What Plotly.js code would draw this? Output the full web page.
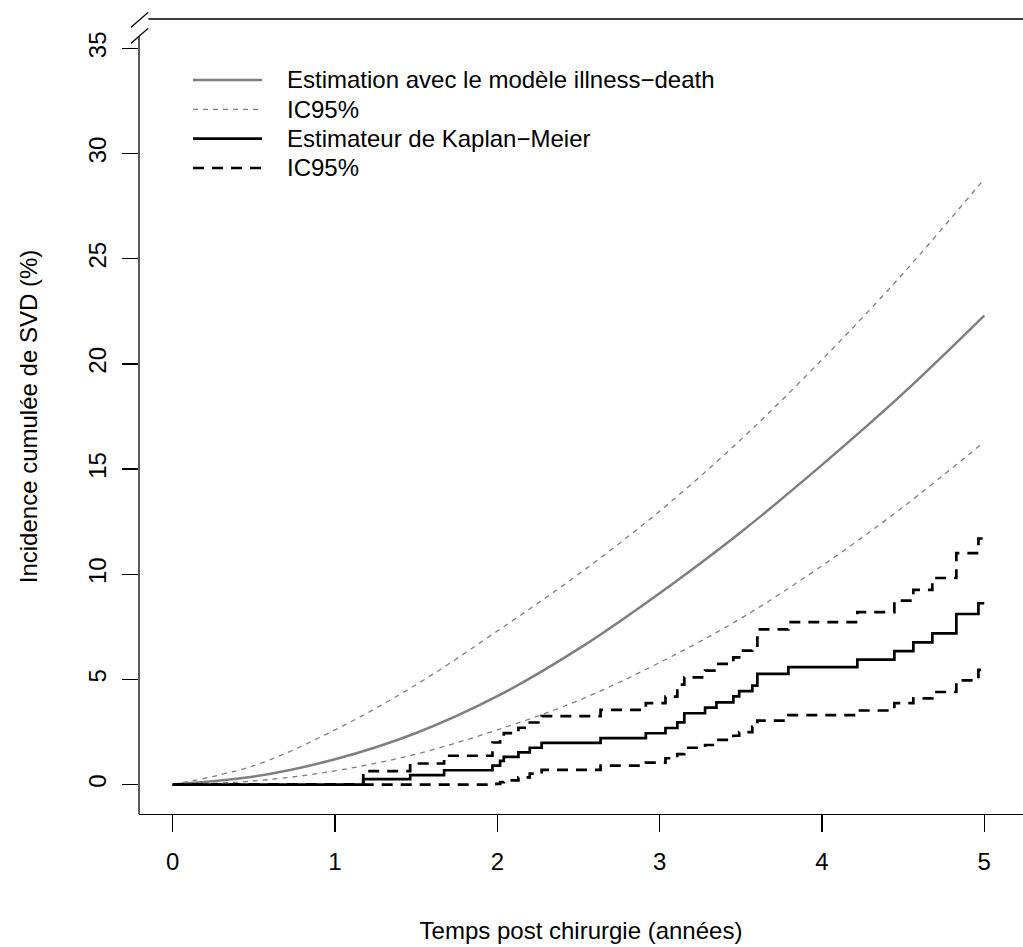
<!DOCTYPE html>
<html>
<head>
<meta charset="utf-8">
<script src="https://cdn.plot.ly/plotly-3.0.1.min.js"></script>
<style>
  html, body { margin: 0; padding: 0; background: #ffffff; }
  #chart { width: 1023px; height: 947px; }
</style>
</head>
<body>
<div id="chart"></div>
<script>
// ---- Illness-death model estimate (smooth curves), read at grid times ----
const tGrid      = [0, 0.5, 1, 1.5, 2, 2.5, 3, 3.5, 4, 4.5, 5];
const idEstimate = [0, 0.38, 1.2, 2.45, 4.2, 6.45, 9.1, 12.0, 15.2, 18.6, 22.3];
const idLower    = [0, 0.17, 0.65, 1.45, 2.6, 4.0, 5.8, 7.9, 10.4, 13.2, 16.3];
const idUpper    = [0, 0.9, 2.6, 4.75, 7.3, 10.0, 13.0, 16.4, 20.2, 24.3, 28.8];

// ---- Kaplan-Meier estimator (step function) ----
const kmTime  = [0, 1.174, 1.463, 1.672, 1.970, 2.017, 2.040, 2.130, 2.200, 2.273, 2.636, 2.915, 3.036, 3.109, 3.152, 3.280, 3.350, 3.454, 3.490, 3.571, 3.602, 3.793, 4.218, 4.446, 4.563, 4.680, 4.828, 4.964, 5.0];
const kmValue = [0, 0.26, 0.45, 0.68, 0.90, 1.13, 1.32, 1.53, 1.75, 1.98, 2.21, 2.44, 2.69, 2.96, 3.39, 3.66, 3.91, 4.19, 4.44, 4.70, 5.26, 5.58, 5.94, 6.34, 6.76, 7.19, 8.11, 8.62, 8.62];
const kmUpper = [0, 0.64, 1.00, 1.37, 2.00, 2.30, 2.45, 2.70, 2.95, 3.25, 3.55, 3.87, 4.18, 4.75, 5.10, 5.42, 5.74, 6.05, 6.37, 6.60, 7.38, 7.72, 8.20, 8.75, 9.26, 9.82, 11.0, 11.7, 11.7];
const kmLower = [0, 0, 0, 0, 0.03, 0.12, 0.20, 0.34, 0.52, 0.70, 0.90, 1.04, 1.25, 1.45, 1.75, 1.88, 2.12, 2.32, 2.49, 2.75, 3.04, 3.30, 3.52, 3.87, 4.10, 4.40, 4.95, 5.45, 5.45];

// ---- Text ----
const legendLabels = ["Estimation avec le modèle illness\u2212death", "IC95%", "Estimateur de Kaplan\u2212Meier", "IC95%"];
const xTickVals = [0, 1, 2, 3, 4, 5];
const yTickVals = [0, 5, 10, 15, 20, 25, 30, 35];
const xTitle = "Temps post chirurgie (années)";
const yTitle = "Incidence cumulée de SVD (%)";

const GRAY = "#7f7f7f";
const FONT = "'Liberation Sans', Arial, Helvetica, sans-serif";
const FS = 24;

const styles = [
  {color: GRAY, width: 2.5, dash: "solid"},
  {color: GRAY, width: 1.3, dash: "5px,5px"},
  {color: "#000000", width: 2.7, dash: "solid"},
  {color: "#000000", width: 2.7, dash: "11px,8px"}
];

const traces = [
  {x: tGrid, y: idUpper, mode: "lines", line: {color: styles[1].color, width: styles[1].width, dash: styles[1].dash, shape: "spline"}, name: legendLabels[1]},
  {x: tGrid, y: idLower, mode: "lines", line: {color: styles[1].color, width: styles[1].width, dash: styles[1].dash, shape: "spline"}, name: legendLabels[1]},
  {x: tGrid, y: idEstimate, mode: "lines", line: {color: styles[0].color, width: styles[0].width, shape: "spline"}, name: legendLabels[0]},
  {x: kmTime, y: kmUpper, mode: "lines", line: {color: styles[3].color, width: styles[3].width, dash: styles[3].dash, shape: "hv"}, name: legendLabels[3]},
  {x: kmTime, y: kmLower, mode: "lines", line: {color: styles[3].color, width: styles[3].width, dash: styles[3].dash, shape: "hv"}, name: legendLabels[3]},
  {x: kmTime, y: kmValue, mode: "lines", line: {color: styles[2].color, width: styles[2].width, shape: "hv"}, name: legendLabels[2]}
];

// geometry (pixels) of plot area
const W = 1023, H = 947;
const L = 139, R = 0, T = 19, B = 133;
const pw = W - L - R, ph = H - T - B;
const px = (p) => (p - L) / pw;         // pixel x -> paper
const py = (p) => (H - B - p) / ph;     // pixel y -> paper

const shapes = [];
const annotations = [];

// y axis line (stops below the break)
shapes.push({type: "line", xref: "paper", yref: "y", x0: 0, x1: 0, y0: -1.4, y1: 35.57, line: {color: "#000", width: 1.3}});
// top line of the box (after the break)
shapes.push({type: "line", xref: "paper", yref: "paper", x0: px(148.3), x1: 1, y0: 1, y1: 1, line: {color: "#000", width: 1.3}});
// break marks
shapes.push({type: "line", xref: "paper", yref: "paper", x0: px(131), x1: px(148.3), y0: py(27.3), y1: py(12.3), line: {color: "#000", width: 1.2}});
shapes.push({type: "line", xref: "paper", yref: "paper", x0: px(131), x1: px(148.3), y0: py(43.3), y1: py(28.3), line: {color: "#000", width: 1.2}});

// legend (drawn manually as R's legend without box)
const legRows = [80, 109.3, 138.7, 168];
legendLabels.forEach((lab, i) => {
  const s = styles[i];
  shapes.push({type: "line", xref: "paper", yref: "paper", x0: px(193), x1: px(262), y0: py(legRows[i]), y1: py(legRows[i]),
    line: {color: s.color, width: s.width, dash: s.dash}});
  annotations.push({xref: "paper", yref: "paper", x: px(285), y: py(legRows[i]), xanchor: "left", yanchor: "middle",
    text: lab, showarrow: false, font: {family: FONT, size: FS, color: "#000"}});
});

const layout = {
  width: W, height: H,
  margin: {l: L, r: R, t: T, b: B, pad: 0},
  paper_bgcolor: "#ffffff", plot_bgcolor: "#ffffff",
  showlegend: false,
  font: {family: FONT, size: FS, color: "#000"},
  xaxis: {
    range: [-0.2076, 5.2386], showgrid: false, zeroline: false,
    showline: true, linecolor: "#000", linewidth: 1.3,
    ticks: "outside", ticklen: 17, tickcolor: "#000", tickwidth: 1.3,
    tickvals: xTickVals, ticktext: xTickVals.map(String),
    tickfont: {family: FONT, size: FS, color: "#000"},
    ticklabelstandoff: 9,
    title: {text: xTitle, font: {family: FONT, size: FS, color: "#000"}, standoff: 48}
  },
  yaxis: {
    range: [-1.4, 36.4], showgrid: false, zeroline: false, showline: false,
    ticks: "outside", ticklen: 16, tickcolor: "#000", tickwidth: 1.3,
    tickvals: yTickVals, ticktext: yTickVals.map(String),
    tickangle: -90,
    tickfont: {family: FONT, size: FS, color: "#000"},
    ticklabelstandoff: 6,
    title: {text: yTitle, font: {family: FONT, size: FS, color: "#000"}, standoff: 40}
  },
  shapes: shapes,
  annotations: annotations
};

Plotly.newPlot("chart", traces, layout, {staticPlot: true, displayModeBar: false});
</script>
</body>
</html>
